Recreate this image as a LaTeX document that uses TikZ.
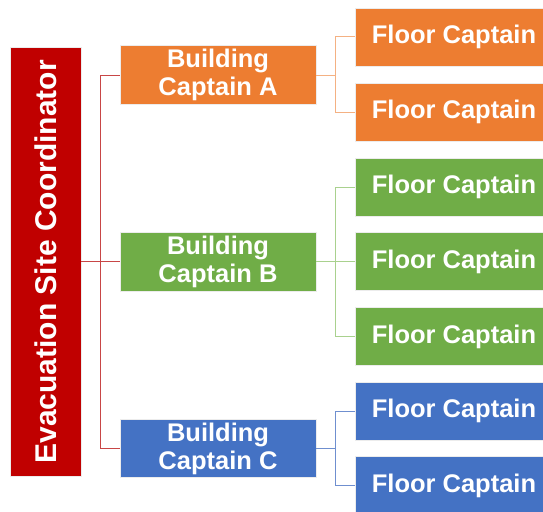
\documentclass[tikz,border=0pt]{standalone}
\usepackage{fontspec}
\setmainfont{Liberation Sans}
\definecolor{sitered}{RGB}{192, 0, 0}
\definecolor{capa}{RGB}{237, 125, 49}
\definecolor{capb}{RGB}{112, 173, 71}
\definecolor{capc}{RGB}{68, 114, 196}
\definecolor{linered}{RGB}{200, 70, 70}
\definecolor{linea}{RGB}{244, 177, 131}
\definecolor{lineb}{RGB}{169, 209, 142}
\definecolor{linec}{RGB}{111, 143, 207}

\begin{document}
\begin{tikzpicture}[x=1pt, y=-1pt,
    box/.style={draw=white!85!gray, line width=0.8pt, text=white, inner sep=0pt,
                font=\bfseries\fontsize{25.5}{28}\selectfont, align=center},
    bldg/.style={box, minimum width=196pt, minimum height=58.5pt},
    floorbox/.style={box, minimum width=197pt, minimum height=58pt},
    wire/.style={line width=1pt}]
    \useasboundingbox (0,0) rectangle (543,511);
    \clip (0,0) rectangle (543,511);

    % Coordinator
    \node[box, fill=sitered, minimum width=71pt, minimum height=429.5pt,
          font=\bfseries\fontsize{30}{32}\selectfont] (coord) at (45.5,261.7) {};
    \node[text=white, rotate=90, font=\bfseries\fontsize{30}{32}\selectfont] (coordtxt) at (coord.center) {Evacuation Site Coordinator};

    % Building captains
    \node[bldg, fill=capa] (bA) at (218,75) {Building\\Captain A};
    \node[bldg, fill=capb] (bB) at (218,261.7) {Building\\Captain B};
    \node[bldg, fill=capc] (bC) at (218,448.5) {Building\\Captain C};

    % Floor captains
    \node[floorbox, fill=capa] (fA1) at (454,37) {Floor Captain};
    \node[floorbox, fill=capa] (fA2) at (454,112) {Floor Captain};
    \node[floorbox, fill=capb] (fB1) at (454,187) {Floor Captain};
    \node[floorbox, fill=capb] (fB2) at (454,261.7) {Floor Captain};
    \node[floorbox, fill=capb] (fB3) at (454,336.5) {Floor Captain};
    \node[floorbox, fill=capc] (fC1) at (454,411) {Floor Captain};
    \node[floorbox, fill=capc] (fC2) at (454,485.5) {Floor Captain};

    % Coordinator to buildings
    \draw[wire, linered] (coord.east) -- ++(19,0) coordinate (rj) |- (bA.west);
    \draw[wire, linered] (rj) |- (bC.west);
    \draw[wire, linered] (rj) -- (bB.west);

    % Buildings to floors
    \draw[wire, linea] (bA.east) -- ++(19.5,0) coordinate (aj) |- (fA1.west);
    \draw[wire, linea] (aj) |- (fA2.west);
    \draw[wire, lineb] (bB.east) -- ++(19.5,0) coordinate (bj) |- (fB1.west);
    \draw[wire, lineb] (bj) |- (fB3.west);
    \draw[wire, lineb] (bj) -- (fB2.west);
    \draw[wire, linec] (bC.east) -- ++(19.5,0) coordinate (cj) |- (fC1.west);
    \draw[wire, linec] (cj) |- (fC2.west);
\end{tikzpicture}
\end{document}
